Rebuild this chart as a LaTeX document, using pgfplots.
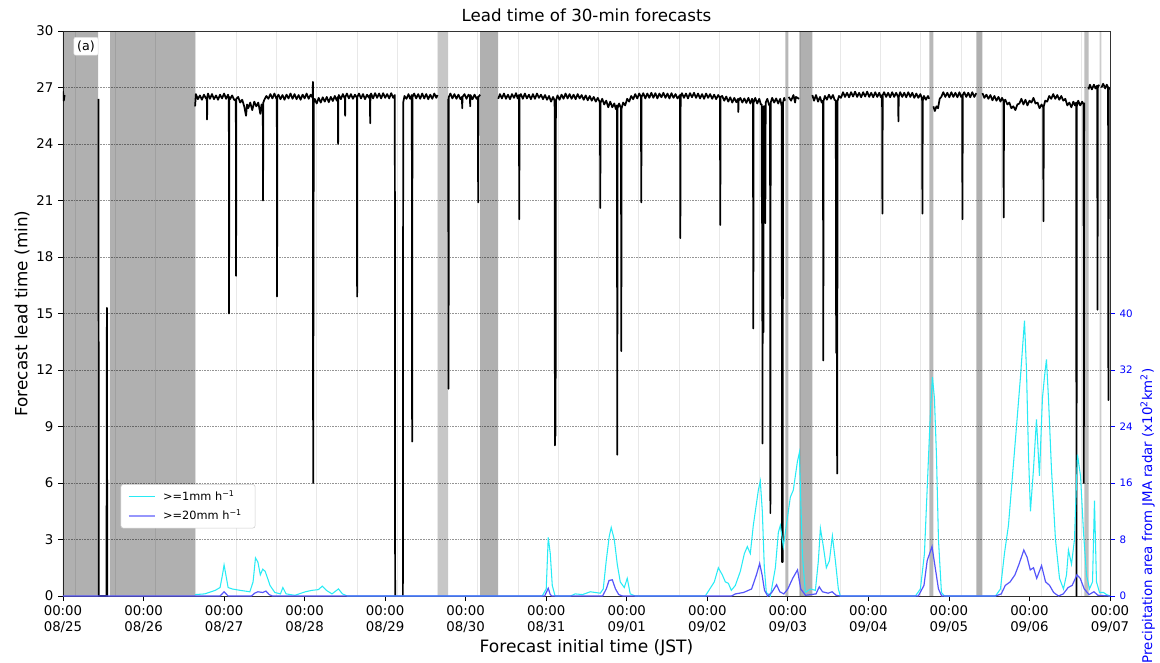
\documentclass[border=0pt]{standalone}
\usepackage{fontspec}
\setmainfont{DejaVu Sans}
\usepackage{pgfplots}
\pgfplotsset{compat=1.18}
\definecolor{cyanl}{RGB}{40,235,245}
\definecolor{bluel}{RGB}{85,85,250}
\definecolor{bluelegend}{RGB}{150,150,252}
\begin{document}
\begin{tikzpicture}
\begin{axis}[
  at={(0pt,0pt)}, anchor=south west, scale only axis,
  width=785.25pt, height=423.75pt,
  xmin=0, xmax=13, ymin=0, ymax=30,
  xtick={0,...,13},
  xticklabels={00:00\\08/25,00:00\\08/26,00:00\\08/27,00:00\\08/28,00:00\\08/29,00:00\\08/30,00:00\\08/31,00:00\\09/01,00:00\\09/02,00:00\\09/03,00:00\\09/04,00:00\\09/05,00:00\\09/06,00:00\\09/07},
  xticklabel style={align=center, font=\fontsize{10}{11.6}\selectfont},
  ytick={0,3,...,30},
  yticklabel style={font=\fontsize{10}{12}\selectfont},
  /pgf/number format/assume math mode=true,
  minor xtick={0.15,0.65,...,12.65},
  xminorgrids, ymajorgrids,
  minor grid style={black!9, line width=0.6pt},
  major grid style={black!42, dash pattern=on 1.2pt off 0.8pt, line width=0.6pt},
  minor tick length=0pt,
  major tick length=3.75pt,
  tick align=outside,
  xtick pos=left, ytick pos=left,
  tick style={black, line width=0.6pt},
  axis line style={black!80, line width=0.6pt},
  title={Lead time of 30-min forecasts},
  every axis title/.style={font=\fontsize{12.5}{14}\selectfont, at={(axis description cs:0.5,1.0)}, anchor=base, yshift=7.5pt},
  xlabel={Forecast initial time (JST)},
  every axis x label/.style={at={(axis description cs:0.5,-0.092)}, anchor=center, font=\fontsize{12.8}{15}\selectfont},
  ylabel={Forecast lead time (min)},
  every axis y label/.style={at={(axis description cs:-0.039,0.5)}, rotate=90, anchor=center, font=\fontsize{12.6}{15}\selectfont},
  unbounded coords=jump,
]
% missing-data bands
\addplot[draw=none, fill=black, fill opacity=0.31, forget plot] coordinates {(0,0)(0,30)(0.435,30)(0.435,0)} \closedcycle;
\addplot[draw=none, fill=black, fill opacity=0.31, forget plot] coordinates {(0.584,0)(0.584,30)(1.64,30)(1.64,0)} \closedcycle;
\addplot[draw=none, fill=black, fill opacity=0.22, forget plot] coordinates {(4.658,0)(4.658,30)(4.783,30)(4.783,0)} \closedcycle;
\addplot[draw=none, fill=black, fill opacity=0.31, forget plot] coordinates {(5.18,0)(5.18,30)(5.404,30)(5.404,0)} \closedcycle;
\addplot[draw=none, fill=black, fill opacity=0.28, forget plot] coordinates {(8.969,0)(8.969,30)(9.006,30)(9.006,0)} \closedcycle;
\addplot[draw=none, fill=black, fill opacity=0.31, forget plot] coordinates {(9.143,0)(9.143,30)(9.304,30)(9.304,0)} \closedcycle;
\addplot[draw=none, fill=black, fill opacity=0.28, forget plot] coordinates {(10.758,0)(10.758,30)(10.807,30)(10.807,0)} \closedcycle;
\addplot[draw=none, fill=black, fill opacity=0.31, forget plot] coordinates {(11.342,0)(11.342,30)(11.416,30)(11.416,0)} \closedcycle;
\addplot[draw=none, fill=black, fill opacity=0.25, forget plot] coordinates {(12.683,0)(12.683,30)(12.733,30)(12.733,0)} \closedcycle;
\addplot[draw=none, fill=black, fill opacity=0.2, forget plot] coordinates {(12.870,0)(12.870,30)(12.894,30)(12.894,0)} \closedcycle;
% lead time
\addplot[black, line width=1.3pt, line join=round] coordinates {
(0,26.8)(0.01,26.3)(0.02,26.6)(0.03,nan)
(0.44,26.4)(0.445,0)(0.54,0)(0.545,15.3)(0.55,0)(0.56,0)(0.57,nan)
(1.640,26.0)(1.650,26.65)(1.675,26.38)(1.700,26.58)(1.725,26.35)(1.750,26.62)(1.775,26.42)(1.786,26.4)(1.789,25.3)(1.792,26.5)(1.800,26.68)(1.825,26.4)(1.850,26.65)(1.875,26.38)(1.900,26.58)(1.925,26.35)(1.950,26.62)(1.975,26.42)(2.000,26.68)(2.025,26.4)(2.050,26.62)(2.059,26.4)(2.062,15.0)(2.065,26.5)(2.075,26.38)(2.100,26.58)(2.125,26.35)(2.146,26.3)(2.149,17.0)(2.152,26.4)(2.175,26.5)(2.200,26.2)(2.225,26.35)(2.250,26.0)(2.273,25.5)(2.285,26.1)(2.300,25.9)(2.325,26.2)(2.350,25.8)(2.375,26.25)(2.400,26.0)(2.425,26.2)(2.450,25.6)(2.465,26.1)(2.481,26.0)(2.484,21.0)(2.487,26.2)(2.500,26.35)(2.525,26.55)(2.550,26.4)(2.575,26.65)(2.600,26.42)(2.625,26.68)(2.650,26.4)(2.655,26.45)(2.658,15.9)(2.661,26.5)(2.675,26.62)(2.700,26.38)(2.725,26.6)(2.750,26.35)(2.775,26.62)(2.800,26.42)(2.825,26.68)(2.850,26.4)(2.875,26.65)(2.900,26.38)(2.925,26.6)(2.950,26.35)(2.975,26.62)(3.000,26.42)(3.025,26.68)(3.050,26.4)(3.075,26.62)(3.100,26.45)(3.103,27.3)(3.106,6.0)(3.110,17.0)(3.114,26.2)(3.125,26.4)(3.150,26.15)(3.175,26.45)(3.200,26.2)(3.225,26.48)(3.250,26.25)(3.275,26.5)(3.300,26.22)(3.325,26.5)(3.350,26.28)(3.375,26.55)(3.400,26.3)(3.413,26.5)(3.416,24.0)(3.419,26.4)(3.425,26.6)(3.450,26.38)(3.475,26.65)(3.500,26.4)(3.503,25.5)(3.506,26.5)(3.525,26.68)(3.550,26.42)(3.575,26.65)(3.600,26.4)(3.625,26.62)(3.649,26.45)(3.652,15.9)(3.655,26.5)(3.675,26.68)(3.700,26.42)(3.725,26.65)(3.750,26.38)(3.775,26.62)(3.800,26.45)(3.811,26.6)(3.814,25.1)(3.817,26.5)(3.825,26.68)(3.850,26.42)(3.875,26.7)(3.900,26.45)(3.925,26.68)(3.950,26.42)(3.975,26.7)(4.000,26.45)(4.025,26.65)(4.050,26.42)(4.075,26.7)(4.100,26.45)(4.120,26.6)(4.124,0)(4.13,nan)
(4.22,0)(4.224,26.2)(4.24,26.55)(4.265,26.4)(4.29,26.65)(4.31,26.4)(4.331,26.6)(4.335,8.2)(4.339,26.5)(4.36,26.68)(4.385,26.42)(4.41,26.65)(4.435,26.4)(4.46,26.68)(4.485,26.42)(4.51,26.65)(4.535,26.38)(4.56,26.62)(4.585,26.4)(4.61,26.68)(4.635,26.45)(4.65,26.6)(4.655,nan)
(4.783,26.4)(4.787,11.0)(4.791,26.5)(4.81,26.68)(4.835,26.42)(4.86,26.65)(4.885,26.4)(4.91,26.62)(4.935,26.38)(4.953,26.5)(4.957,25.9)(4.961,26.5)(4.985,26.65)(5.01,26.4)(5.035,26.62)(5.052,26.5)(5.056,26.0)(5.06,26.6)(5.085,26.38)(5.11,26.62)(5.135,26.4)(5.151,26.5)(5.155,20.9)(5.159,26.5)(5.18,26.62)(5.185,nan)
(5.404,26.4)(5.425,26.65)(5.45,26.42)(5.475,26.68)(5.50,26.4)(5.525,26.62)(5.55,26.38)(5.575,26.65)(5.60,26.45)(5.625,26.7)(5.645,26.42)(5.661,26.6)(5.665,20.0)(5.669,26.5)(5.685,26.65)(5.71,26.4)(5.735,26.68)(5.76,26.42)(5.785,26.62)(5.81,26.38)(5.835,26.65)(5.86,26.4)(5.885,26.68)(5.91,26.45)(5.935,26.62)(5.96,26.38)(5.985,26.6)(6.01,26.35)(6.035,26.55)(6.06,26.25)(6.085,26.5)(6.104,26.3)(6.108,8.0)(6.112,15)(6.116,8.5)(6.12,26.3)(6.14,26.58)(6.165,26.35)(6.19,26.62)(6.215,26.4)(6.24,26.68)(6.265,26.42)(6.29,26.65)(6.315,26.4)(6.34,26.62)(6.365,26.38)(6.39,26.65)(6.415,26.42)(6.44,26.6)(6.465,26.35)(6.49,26.58)(6.515,26.32)(6.54,26.55)(6.565,26.3)(6.59,26.5)(6.615,26.25)(6.64,26.45)(6.667,26.2)(6.671,20.6)(6.675,26.2)(6.695,26.4)(6.72,26.1)(6.745,26.3)(6.77,25.95)(6.795,26.25)(6.82,25.95)(6.845,26.15)(6.865,25.85)(6.878,26.05)(6.882,7.5)(6.886,25.9)(6.905,26.15)(6.928,25.9)(6.932,13.0)(6.936,25.9)(6.955,26.2)(6.98,26.05)(7.005,26.4)(7.03,26.25)(7.055,26.55)(7.08,26.38)(7.105,26.65)(7.13,26.42)(7.155,26.68)(7.176,26.5)(7.180,20.9)(7.184,26.5)(7.205,26.7)(7.23,26.42)(7.255,26.68)(7.28,26.45)(7.305,26.72)(7.33,26.45)(7.355,26.7)(7.38,26.42)(7.405,26.68)(7.43,26.48)(7.455,26.72)(7.48,26.45)(7.505,26.68)(7.53,26.42)(7.555,26.7)(7.58,26.45)(7.605,26.65)(7.63,26.42)(7.661,26.6)(7.665,19.0)(7.669,26.5)(7.685,26.7)(7.71,26.45)(7.735,26.68)(7.76,26.42)(7.785,26.7)(7.81,26.48)(7.835,26.72)(7.86,26.45)(7.885,26.68)(7.91,26.42)(7.935,26.65)(7.96,26.4)(7.985,26.68)(8.01,26.45)(8.035,26.65)(8.06,26.4)(8.085,26.62)(8.11,26.38)(8.135,26.6)(8.157,26.45)(8.161,19.7)(8.165,26.5)(8.185,26.55)(8.21,26.3)(8.235,26.52)(8.26,26.25)(8.285,26.48)(8.31,26.2)(8.335,26.45)(8.36,26.22)(8.382,26.4)(8.385,25.7)(8.389,26.3)(8.41,26.45)(8.435,26.2)(8.46,26.42)(8.485,26.18)(8.51,26.45)(8.535,26.15)(8.555,26.4)(8.567,26.3)(8.571,14.2)(8.575,26.2)(8.595,26.45)(8.62,26.15)(8.645,26.4)(8.665,26.1)(8.675,26.1)(8.678,19.8)(8.681,26.0)(8.685,8.1)(8.689,19.5)(8.693,25.8)(8.697,14.0)(8.701,26.0)(8.716,26.0)(8.72,19.8)(8.725,26.2)(8.745,26.4)(8.765,26.1)(8.779,26.0)(8.783,4.4)(8.787,26.2)(8.805,26.45)(8.83,26.2)(8.855,26.42)(8.88,26.15)(8.905,26.4)(8.924,26.0)(8.928,1.8)(8.932,12.9)(8.936,1.8)(8.94,26.2)(8.955,26.45)(8.965,26.3)(8.968,nan)
(9.01,26.5)(9.04,26.3)(9.07,26.6)(9.09,26.2)(9.10,26.5)(9.14,26.4)(9.142,nan)
(9.304,26.6)(9.325,26.3)(9.35,26.6)(9.375,26.25)(9.40,26.5)(9.42,26.2)(9.436,26.3)(9.44,12.5)(9.444,26.3)(9.46,26.55)(9.485,26.35)(9.51,26.62)(9.535,26.4)(9.56,26.6)(9.58,26.35)(9.595,26.3)(9.600,12.9)(9.605,26.2)(9.612,6.5)(9.618,26.3)(9.635,26.55)(9.66,26.45)(9.685,26.75)(9.71,26.5)(9.735,26.72)(9.76,26.48)(9.785,26.75)(9.81,26.52)(9.835,26.78)(9.86,26.5)(9.885,26.72)(9.91,26.48)(9.935,26.75)(9.96,26.52)(9.985,26.78)(10.01,26.5)(10.035,26.72)(10.06,26.48)(10.085,26.75)(10.11,26.5)(10.135,26.72)(10.155,26.48)(10.170,26.6)(10.174,20.3)(10.178,26.6)(10.195,26.75)(10.22,26.5)(10.245,26.72)(10.27,26.48)(10.295,26.75)(10.32,26.5)(10.345,26.72)(10.369,26.5)(10.373,25.2)(10.377,26.5)(10.395,26.75)(10.42,26.5)(10.445,26.72)(10.47,26.48)(10.495,26.75)(10.52,26.5)(10.545,26.72)(10.57,26.45)(10.595,26.68)(10.62,26.45)(10.645,26.65)(10.667,26.4)(10.671,20.3)(10.675,26.3)(10.69,26.55)(10.715,26.35)(10.74,26.55)(10.755,26.4)(10.757,nan)
(10.807,26.0)(10.825,25.75)(10.845,26.0)(10.865,25.9)(10.885,26.4)(10.905,26.5)(10.93,26.75)(10.955,26.5)(10.98,26.72)(11.005,26.48)(11.03,26.75)(11.055,26.5)(11.08,26.72)(11.105,26.48)(11.13,26.75)(11.15,26.5)(11.164,26.6)(11.168,20.0)(11.172,26.6)(11.19,26.75)(11.215,26.5)(11.24,26.72)(11.265,26.48)(11.29,26.75)(11.315,26.5)(11.34,26.7)(11.341,nan)
(11.416,26.7)(11.44,26.45)(11.465,26.62)(11.49,26.4)(11.515,26.6)(11.54,26.32)(11.565,26.55)(11.59,26.3)(11.615,26.5)(11.64,26.25)(11.66,26.45)(11.676,26.3)(11.680,20.1)(11.684,26.3)(11.70,26.35)(11.725,26.1)(11.75,26.2)(11.775,25.9)(11.80,26.0)(11.825,25.8)(11.85,26.1)(11.875,26.15)(11.90,26.4)(11.925,26.1)(11.95,26.35)(11.975,26.05)(12.00,26.3)(12.025,26.2)(12.05,26.45)(12.075,26.15)(12.10,26.2)(12.125,25.9)(12.15,26.1)(12.170,25.95)(12.174,19.9)(12.178,26.0)(12.195,26.3)(12.22,26.25)(12.245,26.55)(12.27,26.4)(12.295,26.65)(12.32,26.4)(12.345,26.6)(12.37,26.35)(12.395,26.55)(12.42,26.3)(12.445,26.4)(12.47,26.05)(12.495,26.2)(12.52,25.95)(12.545,26.25)(12.565,26.05)(12.58,26.2)(12.584,0)(12.588,26.0)(12.605,26.3)(12.63,26.05)(12.655,26.25)(12.671,26.1)(12.675,6.0)(12.679,26.2)(12.682,nan)
(12.733,26.9)(12.75,27.15)(12.775,26.9)(12.80,27.15)(12.82,26.95)(12.841,27.1)(12.845,15.2)(12.849,27.0)(12.865,27.15)(12.868,nan)
(12.894,27.0)(12.915,27.2)(12.94,26.95)(12.96,27.15)(12.976,27.0)(12.980,10.4)(12.985,27.0)(13.0,26.9)
};
\node[fill=white, draw=black!12, rounded corners=1.5pt, inner sep=2.5pt, font=\fontsize{9.5}{10}\selectfont] at (axis description cs:0.022,0.973) {(a)};
\end{axis}
\begin{axis}[
  at={(0pt,0pt)}, anchor=south west, scale only axis,
  width=785.25pt, height=423.75pt,
  xmin=0, xmax=13, ymin=0, ymax=80,
  axis x line=none, axis y line*=right,
  axis line style={black!80, line width=0.6pt},
  ytick={0,8,...,40},
  yticklabel style={blue, font=\fontsize{7.7}{9}\selectfont},
  /pgf/number format/assume math mode=true,
  major tick length=3.75pt, tick align=outside,
  ytick style={blue, line width=0.6pt},
  ylabel={Precipitation area from JMA radar (x10\textsuperscript{2}km\textsuperscript{2})},
  every axis y label/.style={at={(axis description cs:1.036,0.142)}, rotate=90, anchor=center, blue, font=\fontsize{10}{12}\selectfont},
  legend style={at={(axis description cs:0.055,0.198)}, anchor=north west, font=\fontsize{8.5}{10}\selectfont, draw=black!20, rounded corners=2pt, fill=white, inner xsep=5pt, inner ysep=3pt, row sep=1.5pt, nodes={inner xsep=5pt}},
  legend cell align=left,
]
\addplot[cyanl, line width=0.8pt, legend image code/.code={\draw[cyanl, line width=0.8pt] (0pt,0pt) -- (20pt,0pt);}] coordinates {
(1.64,0.2)(1.76,0.3)(1.89,0.8)(1.95,1.2)(1.98,3)(2.00,4.4)(2.03,2.5)(2.05,1.2)(2.10,1.0)(2.20,0.8)(2.32,0.6)(2.36,2)(2.39,5.4)(2.42,4.8)(2.45,3)(2.48,3.8)(2.51,3.5)(2.55,2.2)(2.57,1.5)(2.63,0.5)(2.70,0.3)(2.73,1.2)(2.77,0.3)(2.88,0.1)(3.01,0.6)(3.09,0.8)(3.17,0.9)(3.22,1.4)(3.27,0.8)(3.34,0.3)(3.42,1.0)(3.47,0.3)(3.53,0)
(5.95,0)(6.00,1)(6.025,8.3)(6.05,6)(6.075,1.5)(6.11,0)(6.30,0)(6.36,0.3)(6.45,0.2)(6.547,0.6)(6.671,0.4)(6.708,1)(6.745,5)(6.783,8.5)(6.807,9.7)(6.845,8)(6.882,4.5)(6.919,2)(6.969,1.2)(7.006,2.5)(7.043,0.3)(7.106,0)
(7.975,0)(8.087,2)(8.137,4)(8.186,3)(8.224,2)(8.261,1.8)(8.298,0.8)(8.348,1.5)(8.41,3.5)(8.46,6)(8.497,7)(8.534,6)(8.571,10)(8.609,13)(8.634,15)(8.658,16.3)(8.683,12)(8.708,4)(8.733,0.5)(8.783,0)(8.845,4)(8.882,9)(8.907,10)(8.944,7)(8.981,10)(9.031,14)(9.068,15)(9.118,19)(9.143,20.3)(9.18,6)(9.217,0.5)(9.28,1)(9.342,0.8)(9.379,5)(9.404,9.6)(9.441,7)(9.478,4)(9.516,5)(9.553,8.5)(9.59,5)(9.627,1)(9.652,0)
(10.584,0)(10.646,1)(10.696,6)(10.733,16)(10.77,26)(10.795,31)(10.82,28)(10.845,20)(10.87,8)(10.907,0.5)(10.944,0)
(11.578,0)(11.64,1)(11.689,6)(11.739,10)(11.789,17)(11.839,24)(11.888,31)(11.938,39)(11.963,32)(11.988,20)(12.012,12)(12.05,18)(12.087,25)(12.124,17)(12.161,28)(12.186,31)(12.211,33.5)(12.236,28)(12.273,18)(12.323,8)(12.373,2.5)(12.422,1)(12.46,3)(12.484,6.5)(12.522,4.5)(12.559,8)(12.596,20)(12.634,17)(12.671,9)(12.708,3)(12.745,1)(12.783,2)(12.807,13.5)(12.832,2)(12.87,0.5)(12.919,0.5)(12.957,0.2)(13.0,0)
};
\addlegendentry{>=1mm h\textsuperscript{−1}}
\addplot[color=bluel, line width=0.9pt, legend image code/.code={\draw[bluelegend, line width=1.8pt] (0pt,0pt) -- (20pt,0pt);}] coordinates {
(0,0)(1.95,0)(2.0,0.6)(2.05,0)(2.34,0)(2.38,0.4)(2.42,0.6)(2.48,0.5)(2.52,0.7)(2.56,0.2)(2.6,0)
(5.98,0)(6.025,1.1)(6.05,0.2)(6.07,0)
(6.70,0)(6.745,1)(6.78,2.2)(6.82,2.3)(6.86,1)(6.90,0.2)(6.95,0)
(8.30,0)(8.35,0.3)(8.45,0.5)(8.55,1)(8.61,3)(8.65,4.6)(8.68,3)(8.71,0.8)(8.75,0)(8.80,0.5)(8.86,1.6)(8.90,0.6)(8.95,0.3)(9.0,1)(9.06,2.5)(9.12,3.7)(9.16,1)(9.22,0.1)(9.35,0.3)(9.39,1.3)(9.43,0.6)(9.50,0.4)(9.55,0.6)(9.60,0.1)(9.65,0)
(10.62,0)(10.69,1.5)(10.73,5)(10.79,7)(10.83,4)(10.87,1)(10.91,0)
(11.58,0)(11.65,0.3)(11.70,1.5)(11.76,2)(11.82,3)(11.87,4.5)(11.93,6.5)(11.97,5.5)(12.01,3.7)(12.05,4)(12.09,2.5)(12.15,4.3)(12.20,2)(12.25,1.5)(12.30,0.5)(12.36,0)(12.42,0.3)(12.48,1.2)(12.53,1.5)(12.59,3)(12.63,2.5)(12.68,1)(12.74,0.2)(12.80,0.6)(12.85,0.1)(13.0,0)
};
\addlegendentry{>=20mm h\textsuperscript{−1}}
\end{axis}
\pgfresetboundingbox
\path[use as bounding box] (-47.25pt,-49.5pt) rectangle (822.75pt,447pt);
\end{tikzpicture}
\end{document}
